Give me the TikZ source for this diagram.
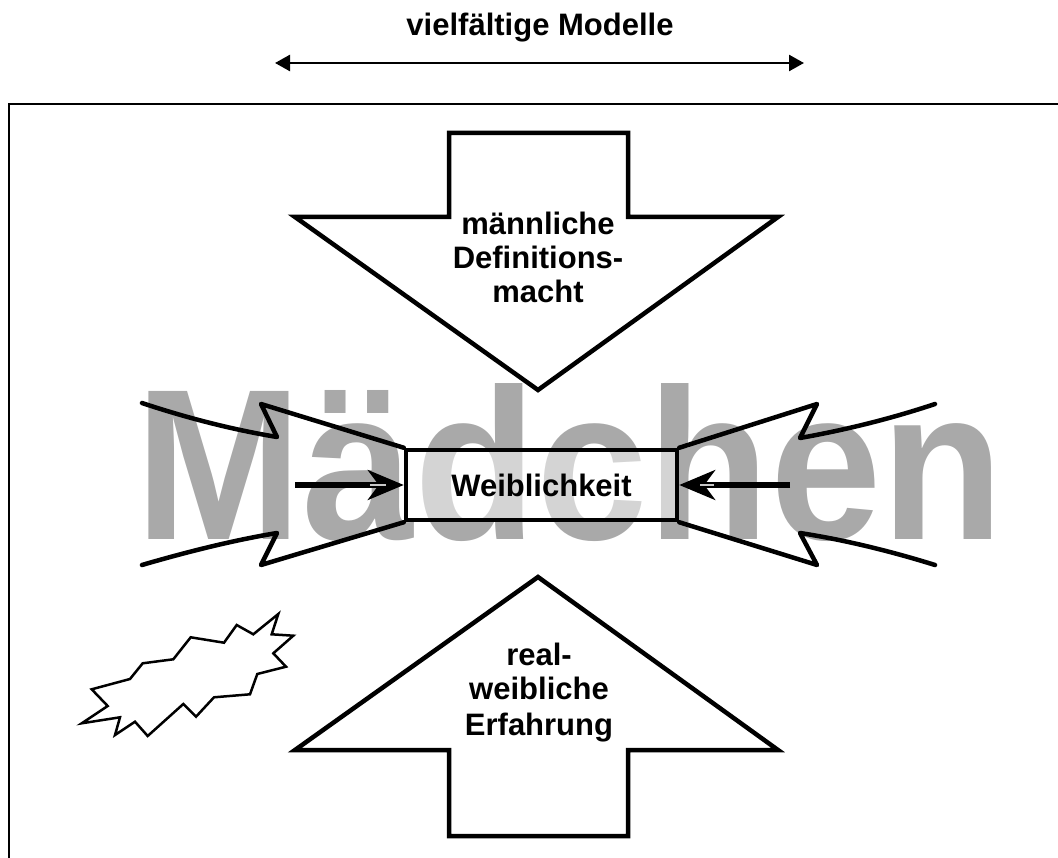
\documentclass[tikz,border=0pt]{standalone}
\usepackage{fontspec}
\setmainfont{Liberation Sans}
\usetikzlibrary{arrows.meta}
\definecolor{wordgray}{RGB}{169,169,169}
\definecolor{tipgray}{RGB}{200,200,200}

\begin{document}
\begin{tikzpicture}[x=1pt,y=-1pt,
  lbl/.style={font=\bfseries\fontsize{31}{34}\selectfont, inner sep=0pt, anchor=base},
  bigarrow/.style={draw=black, line width=4.5pt, fill=white, line join=miter},
  wing/.style={draw=black, line width=4.5pt, line join=round, line cap=round},
  push/.style={line width=5pt, -{Stealth[length=36pt,width=30pt,inset=11pt]}},
  glint/.style={tipgray, line width=2.5pt},
  frame/.style={line width=2.8pt, line join=miter},
  span/.style={line width=2.5pt, {Triangle[length=15pt,width=16pt]}-{Triangle[length=15pt,width=16pt]}},
  burst/.style={line width=2.5pt, line join=miter},
  boxed/.style={draw=black, line width=4.5pt, fill=white, fill opacity=0.5, text opacity=1,
    minimum width=271pt, minimum height=70pt, inner sep=0pt,
    font=\bfseries\fontsize{31}{34}\selectfont},
  ]
\useasboundingbox (0,0) rectangle (1058,858);

% heading and its double arrow
\node[lbl] (title) at (540,36) {vielfältige Modelle};
\coordinate (ml) at (275,63);
\coordinate (mr) at (804,63);
\draw[span] (ml) -- (mr);

% open frame
\draw[frame] (1058,104) -- (9,104) -- (9,858);

% large background word
\node[font=\bfseries\fontsize{205}{205}\selectfont, text=wordgray, inner sep=0pt, anchor=base]
  (word) at (570,539) {\scalebox{0.977}[1.05]{Mädchen}};

% downward arrow
\draw[bigarrow] (449,133) -- (628,133) -- (628,217) -- (778,217) -- (538,390)
  -- (295,217) -- (449,217) -- cycle;
% upward arrow
\draw[bigarrow] (538,577) -- (778,750) -- (628,750) -- (628,836) -- (449,836)
  -- (449,750) -- (295,750) -- cycle;

% central box with its label
\node[boxed] (wb) at (541.5,485) {Weiblichkeit};

% pinched wings on the left
\draw[wing] (wb.north west) -- (261,404) -- (277,437)
  .. controls (235,430) and (190,419) .. (142,403);
\draw[wing] (wb.south west) -- (261,565) -- (277,533)
  .. controls (235,540) and (190,551) .. (142,565);
% pinched wings on the right
\draw[wing] (wb.north east) -- (817,404) -- (800,438)
  .. controls (845,430) and (890,419) .. (935,404);
\draw[wing] (wb.south east) -- (817,565) -- (800,533)
  .. controls (845,540) and (890,551) .. (935,565);

% pushing arrows
\coordinate (pl) at (295,485);
\coordinate (pr) at (790,485);
\draw[push] (pl) -- (wb.west);
\draw[push] (pr) -- (wb.east);
\draw[glint] ([xshift=-34pt]wb.west) -- ([xshift=-18pt]wb.west);
\draw[glint] ([xshift=21pt]wb.east) -- ([xshift=35pt]wb.east);

% labels in the big arrows
\node[lbl] (d1) at (538,235) {männliche};
\node[lbl] (d2) at (538,269) {Definitions-};
\node[lbl] (d3) at (538,303) {macht};
\node[lbl] (u1) at (539,665) {real-};
\node[lbl] (u2) at (539,699) {weibliche};
\node[lbl] (u3) at (539,735) {Erfahrung};

% burst
\draw[burst] (81.7,723.3) -- (120,717.3) -- (115,735) -- (135,721.7) -- (147.7,736)
  -- (183.3,704) -- (196,716.7) -- (214,697.3) -- (250,694.3) -- (257.3,674)
  -- (286,666.7) -- (273.3,653.3) -- (293.3,635.7) -- (271.7,634.3) -- (278.3,614)
  -- (253.3,634.3) -- (236.7,625) -- (224,642.7) -- (190.7,637.3) -- (173.3,659.3)
  -- (142.7,663.3) -- (130,679) -- (91.7,689.3) -- (107.7,706) -- cycle;
\end{tikzpicture}
\end{document}
